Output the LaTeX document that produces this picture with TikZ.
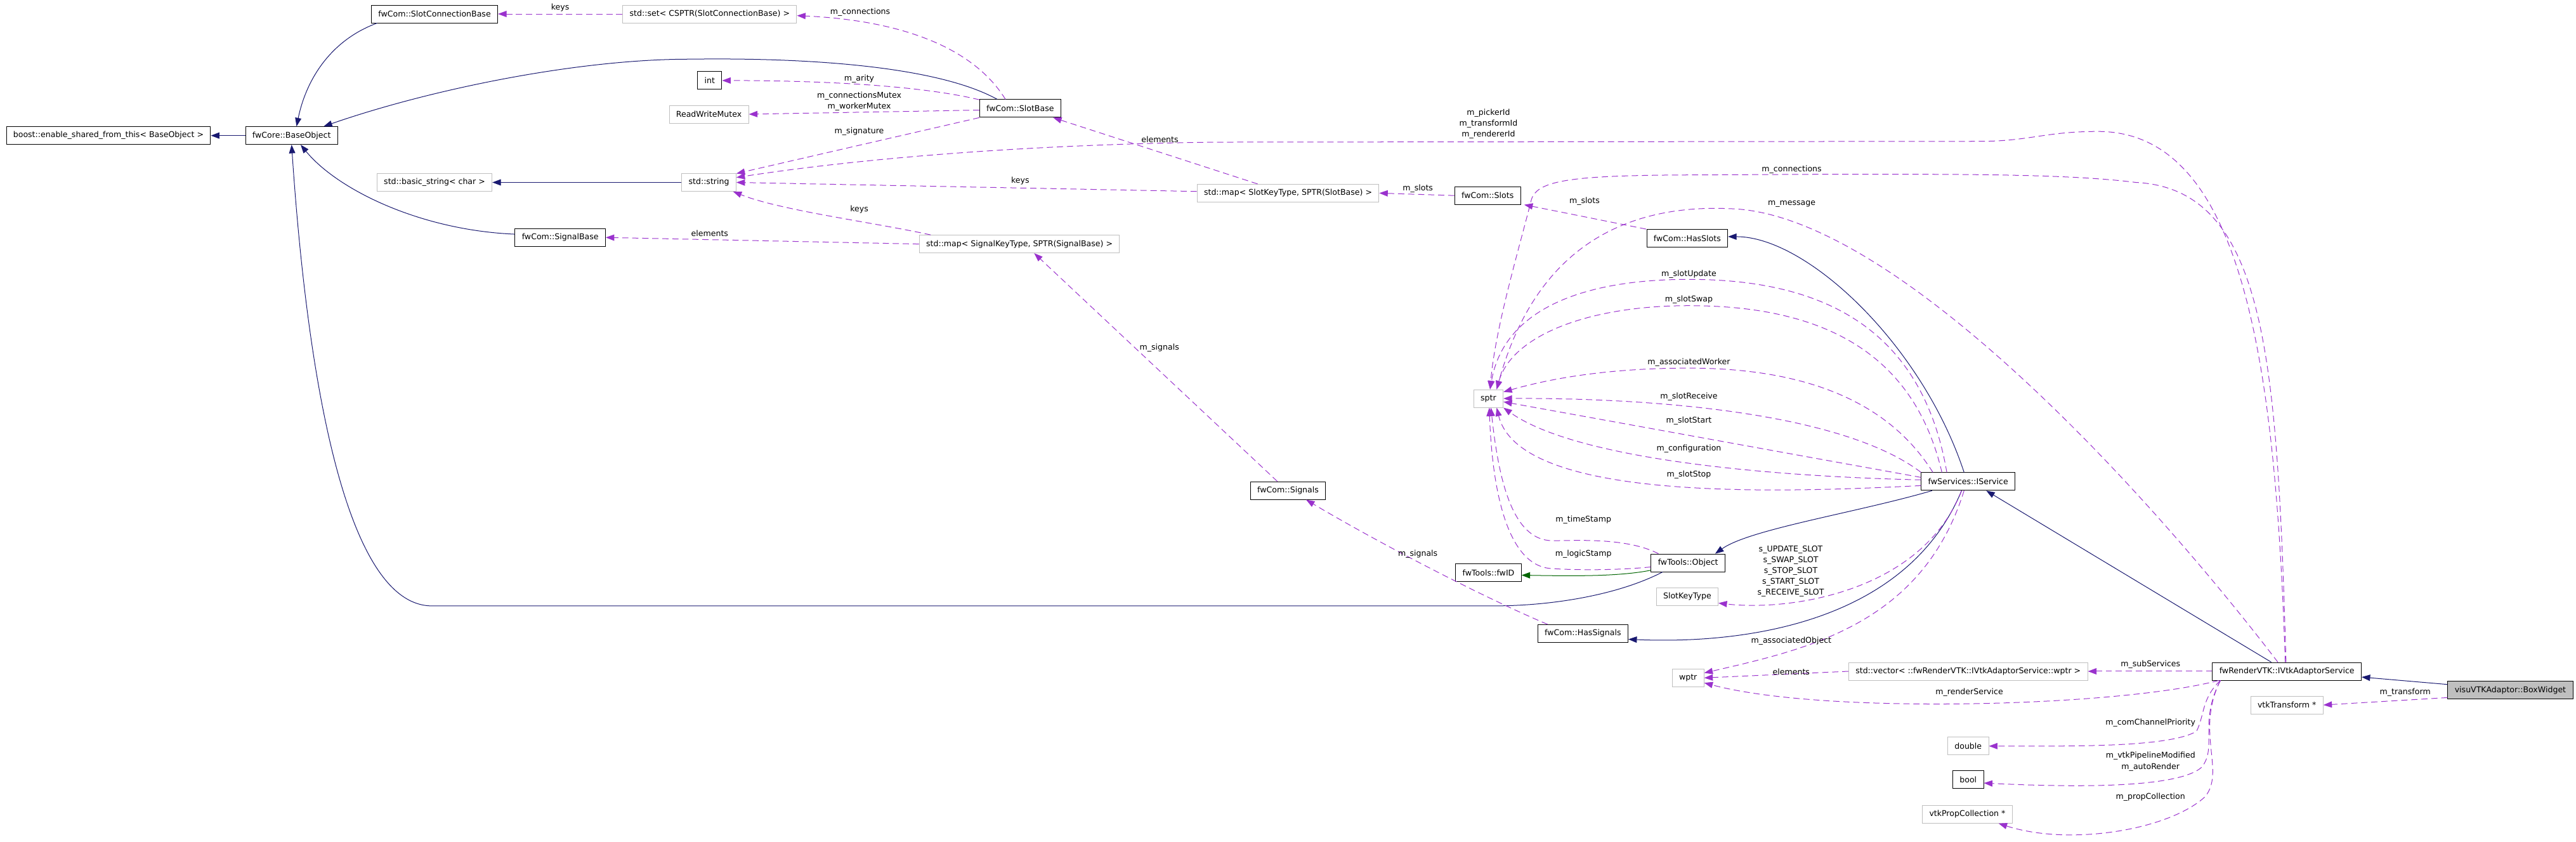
\documentclass[tikz,border=0pt]{standalone}
\usepackage{fontspec}
\setmainfont{DejaVu Sans}
\usetikzlibrary{arrows.meta}
\definecolor{inhblue}{HTML}{191970}
\definecolor{usepurple}{HTML}{9A32CD}
\definecolor{protgreen}{HTML}{006400}
\definecolor{extgray}{HTML}{BFBFBF}

\begin{document}
\begin{tikzpicture}[x=1mm,y=-1mm,
  cls/.style={draw,line width=1.0pt,minimum height=10.8mm,inner xsep=4.2mm,inner ysep=0pt,
              font=\fontsize{13.8}{16}\selectfont},
  ext/.style={cls,draw=extgray},
  sel/.style={cls,fill=extgray},
  inh/.style={draw=inhblue,line width=1.1pt,-{Triangle[length=5.2mm,width=3.8mm]}},
  prot/.style={inh,draw=protgreen},
  use/.style={draw=usepurple,line width=1.1pt,dash pattern=on 3.8mm off 2.3mm,
              -{Triangle[length=5.2mm,width=3.8mm]}},
  lbl/.style={font=\fontsize{13.8}{18.8}\selectfont,align=center,inner sep=0pt}
]
\useasboundingbox (0,0) rectangle (1568,512);

% classes
\node[cls] (boostesft)    at (66,82.5)     {boost::enable\_shared\_from\_this< BaseObject >};
\node[cls] (baseobj)      at (177.5,82.5)  {fwCore::BaseObject};
\node[cls] (slotconnbase) at (264.5,8.5)   {fwCom::SlotConnectionBase};
\node[ext] (slotset)      at (432,8.5)     {std::set< CSPTR(SlotConnectionBase) >};
\node[cls] (slotbase)     at (621,66)      {fwCom::SlotBase};
\node[cls] (nint)         at (432,49)      {int};
\node[ext] (rwmutex)      at (431.5,69.5)  {ReadWriteMutex};
\node[ext] (stdstring)    at (431.5,111)   {std::string};
\node[ext] (basicstring)  at (264.5,111)   {std::basic\_string< char >};
\node[cls] (signalbase)   at (341,144.5)   {fwCom::SignalBase};
\node[ext] (signalmap)    at (620.5,148.5) {std::map< SignalKeyType, SPTR(SignalBase) >};
\node[ext] (slotmap)      at (784,117.5)   {std::map< SlotKeyType, SPTR(SlotBase) >};
\node[cls] (slots)        at (905.5,119)   {fwCom::Slots};
\node[cls] (hasslots)     at (1027,145)    {fwCom::HasSlots};
\node[ext] (sptr)         at (906,242.5)   {sptr};
\node[cls] (signals)      at (784,298.5)   {fwCom::Signals};
\node[cls] (iservice)     at (1198,293)    {fwServices::IService};
\node[cls] (object)       at (1027.5,342.5){fwTools::Object};
\node[cls] (fwid)         at (906,348.5)   {fwTools::fwID};
\node[ext] (slotkeytype)  at (1027,363)    {SlotKeyType};
\node[cls] (hassignals)   at (963.5,385.5) {fwCom::HasSignals};
\node[ext] (wptr)         at (1027.5,412.5){wptr};
\node[ext] (subvec)       at (1198,408.5)  {std::vector< ::fwRenderVTK::IVtkAdaptorService::wptr >};
\node[ext] (dbl)          at (1198,454)    {double};
\node[cls] (boolnode)     at (1198,474.5)  {bool};
\node[ext] (propcoll)     at (1197.5,495.5){vtkPropCollection *};
\node[cls] (ivtk)         at (1392,408.5)  {fwRenderVTK::IVtkAdaptorService};
\node[sel] (boxwidget)    at (1528,420)    {visuVTKAdaptor::BoxWidget};
\node[ext] (vtktrans)     at (1392,429)    {vtkTransform *};

% inheritance
\draw[inh] (baseobj) -- (boostesft);
\draw[inh] ([xshift=-35mm]slotconnbase.south) .. controls (200,25) and (186,50) .. ([xshift=3mm]baseobj.north);
\draw[inh] ([xshift=-14mm]slotbase.north) .. controls (570,40) and (490,35) .. (420,36)
           .. controls (350,36) and (260,55) .. ([xshift=19.5mm]baseobj.north);
\draw[inh] ([yshift=2mm]signalbase.west) .. controls (255,140) and (205,115) .. ([xshift=5.5mm]baseobj.south);
\draw[inh] (stdstring) -- (basicstring);
\draw[inh] ([xshift=-15.5mm]object.south) .. controls (985,362) and (945,368.7) .. (909,368.7) -- (263,368.7)
           .. controls (205,368.7) and (185,200) .. (baseobj.south);
\draw[prot] ([yshift=-4.5mm]object.west) .. controls (985,351) and (955,350.5) .. ([yshift=-1.5mm]fwid.east);
\draw[inh] ([xshift=-22mm]iservice.south) .. controls (1130,312) and (1065,322) .. ([xshift=16.5mm]object.north);
\draw[inh] ([xshift=-2.5mm]iservice.north) .. controls (1170,210) and (1100,144) .. ([yshift=1mm]hasslots.east);
\draw[inh] ([xshift=-4mm]iservice.south) .. controls (1160,380) and (1060,392) .. ([yshift=-3.5mm]hassignals.east);
\draw[inh] ([xshift=-9.5mm]ivtk.north) -- ([xshift=11mm]iservice.south);
\draw[inh] ([yshift=3.5mm]boxwidget.west) -- ([yshift=-3.5mm]ivtk.east);

% members: slots and signals
\draw[use] (slotset) -- (slotconnbase);
\draw[use] ([xshift=-9mm]slotbase.north) .. controls (590,25) and (540,12) .. ([yshift=-1mm]slotset.east);
\draw[use] ([yshift=5.3mm]slotbase.west) .. controls (560,52) and (500,49) .. (nint.east);
\draw[use] ([yshift=-1mm]slotbase.west) -- (rwmutex.east);
\draw[use] (slotbase.south west) -- ([yshift=5.4mm]stdstring.east);
\draw[use] ([xshift=-18.5mm]slotmap.north) -- ([xshift=20mm]slotbase.south);
\draw[use] ([yshift=1mm]slotmap.west) -- (stdstring.east);
\draw[use] ([xshift=-54mm]signalmap.north) .. controls (530,135) and (475,128) .. ([xshift=-2mm]stdstring.south east);
\draw[use] (signalmap.west) -- (signalbase.east);
\draw[use] ([xshift=-6.5mm]signals.north) -- ([xshift=9mm]signalmap.south);
\draw[use] ([xshift=-21.5mm]hassignals.north) .. controls (895,360) and (830,325) .. ([xshift=11mm]signals.south);
\draw[use] (slots.west) -- (slotmap.east);
\draw[use] ([xshift=-25mm]hasslots.north) -- ([xshift=2mm]slots.south east);

% members: adaptor service
\draw[use] ([xshift=-1mm]ivtk.north) .. controls (1385,220) and (1365,80) .. (1277,80)
           .. controls (1245,80) and (1235,86) .. (1205,86) -- (740,86.5)
           .. controls (620,88) and (520,97) .. ([yshift=3mm]stdstring.east);
\draw[use] ([xshift=-0.5mm]ivtk.north) .. controls (1386,220) and (1380,115) .. (1300,111)
           .. controls (1260,106) and (1200,106) .. (1120,106) -- (1020,106.5)
           .. controls (955,107) and (935,110) .. (932,122)
           .. controls (925,150) and (910,200) .. ([xshift=1mm]sptr.north);
\draw[use] ([xshift=-5.5mm]ivtk.north) .. controls (1300,290) and (1150,130) .. (1053.6,127)
           .. controls (990,124) and (935,150) .. ([xshift=5mm]sptr.north);

% members: service
\draw[use] ([xshift=-13mm]iservice.north) .. controls (1170,200) and (1110,170) .. (1028,170)
           .. controls (960,170) and (915,190) .. ([xshift=1mm]sptr.north);
\draw[use] ([xshift=-16mm]iservice.north) .. controls (1165,215) and (1110,186) .. (1028,186)
           .. controls (965,186) and (920,205) .. ([xshift=5mm]sptr.north);
\draw[use] ([xshift=-21.5mm]iservice.north) .. controls (1150,245) and (1100,224) .. (1028,224)
           .. controls (980,224) and (945,230) .. ([yshift=4mm]sptr.east);
\draw[use] (iservice.north west) .. controls (1120,250) and (1000,242) .. (sptr.east);
\draw[use] ([yshift=2.5mm]iservice.west) -- ([yshift=-2mm]sptr.east);
\draw[use] ([yshift=1mm]iservice.west) .. controls (1080,290) and (960,280) .. (sptr.south east);
\draw[use] ([yshift=-2.5mm]iservice.west) .. controls (1080,300) and (925,305) .. ([xshift=5mm]sptr.south);
\draw[use] ([xshift=-18mm]object.north) .. controls (990,327) and (960,329) .. (945,329)
           .. controls (920,329) and (912,290) .. ([xshift=1.5mm]sptr.south);
\draw[use] ([yshift=-2.5mm]object.west) .. controls (985,347) and (960,347) .. (945,346)
           .. controls (915,345) and (908,290) .. ([xshift=0.5mm]sptr.south);
\draw[use] ([xshift=-4mm]iservice.south) .. controls (1170,360) and (1090,372) .. ([yshift=-4mm]slotkeytype.east);
\draw[use] ([xshift=-2.5mm]iservice.south) .. controls (1170,380) and (1100,395) .. ([yshift=3mm]wptr.east);
\draw[use] (subvec.west) -- (wptr.east);
\draw[use] ([xshift=4mm]ivtk.south west) .. controls (1290,430) and (1110,435) .. ([yshift=-3mm]wptr.east);
\draw[use] (ivtk.west) -- (subvec.east);
\draw[use] ([xshift=5mm]ivtk.south west) .. controls (1340,425) and (1342,435) .. (1337,445)
           .. controls (1320,455) and (1260,454) .. (dbl.east);
\draw[use] ([xshift=5mm]ivtk.south west) .. controls (1338,440) and (1350,455) .. (1340,467)
           .. controls (1325,480) and (1260,479) .. ([yshift=-2mm]boolnode.east);
\draw[use] ([xshift=5mm]ivtk.south west) .. controls (1336,445) and (1355,470) .. (1342,485)
           .. controls (1320,505) and (1260,515) .. ([xshift=19mm]propcoll.south);
\draw[use] ([yshift=-4.5mm]boxwidget.west) -- (vtktrans.east);

% edge labels
\node[lbl] (lkeys1)    at (341,4.5)     {keys};
\node[lbl] (lconn1)    at (523.6,7.3)   {m\_connections};
\node[lbl] (larity)    at (523,48)      {m\_arity};
\node[lbl] (lmutex)    at (523,61.5)    {m\_connectionsMutex\\m\_workerMutex};
\node[lbl] (lsig)      at (523,80)      {m\_signature};
\node[lbl] (lelem1)    at (706,85)      {elements};
\node[lbl] (lkeys2)    at (621,110)     {keys};
\node[lbl] (lkeys3)    at (523,127.4)   {keys};
\node[lbl] (lelem2)    at (432,142)     {elements};
\node[lbl] (lsignals1) at (705.7,211.5) {m\_signals};
\node[lbl] (lsignals2) at (863,337)     {m\_signals};
\node[lbl] (lslots1)   at (863,114.6)   {m\_slots};
\node[lbl] (lslots2)   at (964.5,122.3) {m\_slots};
\node[lbl] (lids)      at (906,75.5)    {m\_pickerId\\m\_transformId\\m\_rendererId};
\node[lbl] (lconn2)    at (1090.6,103)  {m\_connections};
\node[lbl] (lmsg)      at (1090.6,124)  {m\_message};
\node[lbl] (lupd)      at (1028,166.7)  {m\_slotUpdate};
\node[lbl] (lswap)     at (1028,182.2)  {m\_slotSwap};
\node[lbl] (lworker)   at (1028,220.5)  {m\_associatedWorker};
\node[lbl] (lrecv)     at (1028,241.3)  {m\_slotReceive};
\node[lbl] (lstart)    at (1028,256)    {m\_slotStart};
\node[lbl] (lconf)     at (1028,273)    {m\_configuration};
\node[lbl] (lstop)     at (1028,288.8)  {m\_slotStop};
\node[lbl] (ltime)     at (963.8,316.4) {m\_timeStamp};
\node[lbl] (llogic)    at (963.8,337)   {m\_logicStamp};
\node[lbl] (lslotids)  at (1090,347.7)  {s\_UPDATE\_SLOT\\s\_SWAP\_SLOT\\s\_STOP\_SLOT\\s\_START\_SLOT\\s\_RECEIVE\_SLOT};
\node[lbl] (lassoc)    at (1090.3,390)  {m\_associatedObject};
\node[lbl] (lelem3)    at (1090.3,408.8){elements};
\node[lbl] (lrender)   at (1198.7,421.4){m\_renderService};
\node[lbl] (lsub)      at (1309,404.3)  {m\_subServices};
\node[lbl] (lprio)     at (1309,439.8)  {m\_comChannelPriority};
\node[lbl] (lflags)    at (1309,463.4)  {m\_vtkPipelineModified\\m\_autoRender};
\node[lbl] (lprops)    at (1309,485.2)  {m\_propCollection};
\node[lbl] (ltrans)    at (1464,421.5)  {m\_transform};

\end{tikzpicture}
\end{document}
